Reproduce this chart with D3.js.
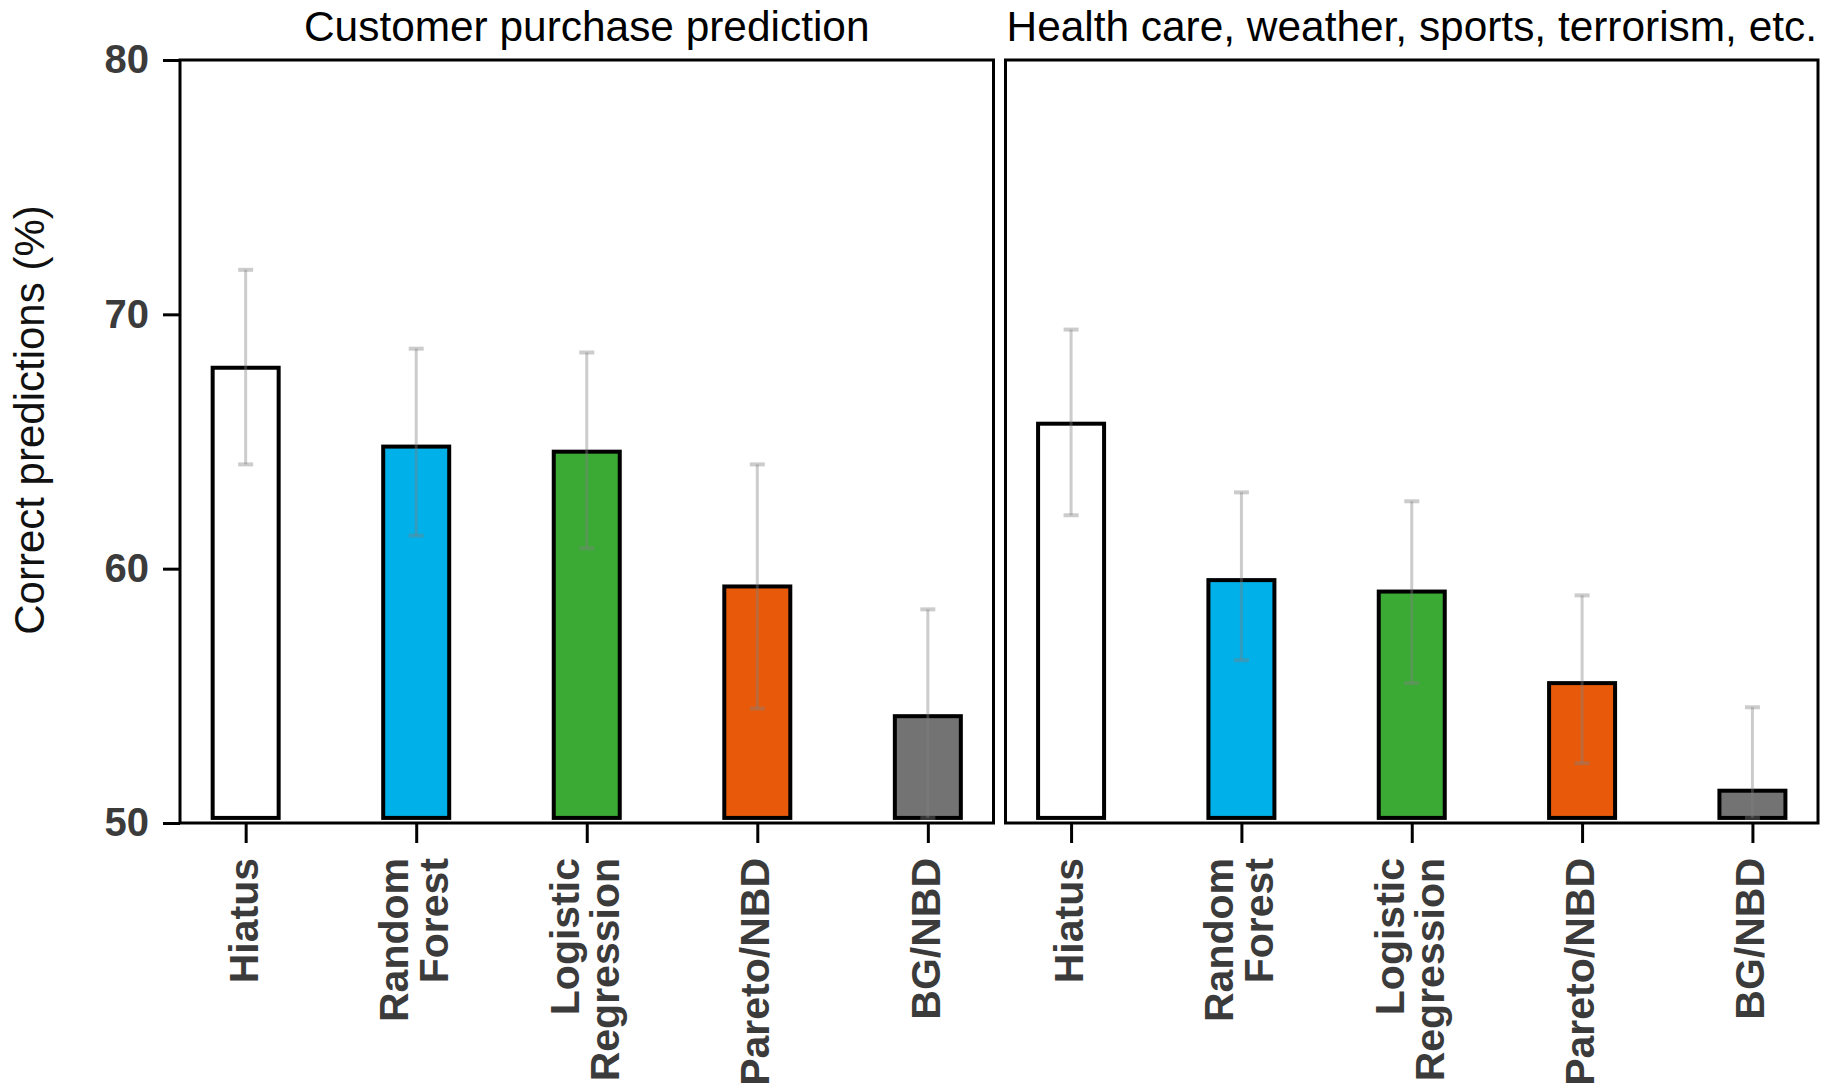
<!DOCTYPE html>
<html>
<head>
<meta charset="utf-8">
<script src="https://cdn.jsdelivr.net/npm/d3@7"></script>
<style>
  html, body { margin: 0; padding: 0; background: #ffffff; }
  svg { display: block; }
</style>
</head>
<body>
<svg id="chart" width="1835" height="1091"></svg>
<script>
// ---------------- data ----------------
const categories = ["Hiatus", "Random Forest", "Logistic Regression", "Pareto/NBD", "BG/NBD"];
const categoryLabelLines = [["Hiatus"], ["Random", "Forest"], ["Logistic", "Regression"], ["Pareto/NBD"], ["BG/NBD"]];
const panelTitles = ["Customer purchase prediction", "Health care, weather, sports, terrorism, etc."];
const yAxisTitle = "Correct predictions (%)";
const yTickValues = [50, 60, 70, 80];

const customerValues   = [67.9, 64.8, 64.6, 59.3, 54.2];
const customerErrLow   = [64.1, 61.3, 60.8, 54.5, 50.2];
const customerErrHigh  = [71.75, 68.65, 68.5, 64.1, 58.4];

const otherValues      = [65.7, 59.55, 59.1, 55.5, 51.27];
const otherErrLow      = [62.1, 56.4, 55.5, 52.35, 50.2];
const otherErrHigh     = [69.4, 63.0, 62.65, 58.95, 54.55];

const barColors = ["#ffffff", "#00b0e8", "#3aaa35", "#e85a0a", "#737373"];

// ---------------- layout ----------------
const svg = d3.select("#chart");
const plotTop = 60, plotBottom = 823;
const panels = [
  { x0: 180, x1: 993.5, title: panelTitles[0], values: customerValues, lo: customerErrLow, hi: customerErrHigh, yAxis: true },
  { x0: 1005.5, x1: 1818, title: panelTitles[1], values: otherValues, lo: otherErrLow, hi: otherErrHigh, yAxis: false }
];

const y = d3.scaleLinear().domain([50, 80]).range([plotBottom, plotTop]);
const barBase = 50.2;
const barWidth = 66;
const tickTextColor = "#3b3b3b";

panels.forEach(p => {
  const x = d3.scalePoint().domain(categories).range([p.x0, p.x1]).padding(0.385);
  const g = svg.append("g");

  // bars
  g.selectAll("rect.bar")
    .data(categories)
    .join("rect")
    .attr("class", "bar")
    .attr("x", d => x(d) - barWidth / 2)
    .attr("width", barWidth)
    .attr("y", (d, i) => y(p.values[i]))
    .attr("height", (d, i) => y(barBase) - y(p.values[i]))
    .attr("fill", (d, i) => barColors[i])
    .attr("stroke", "#000")
    .attr("stroke-width", 4);

  // error bars
  const eb = g.selectAll("g.err").data(categories).join("g").attr("class", "err");
  const errColor = "rgba(128,128,128,0.4)";
  eb.append("line")
    .attr("x1", d => x(d)).attr("x2", d => x(d))
    .attr("y1", (d, i) => y(p.lo[i])).attr("y2", (d, i) => y(p.hi[i]))
    .attr("stroke", errColor).attr("stroke-width", 3);
  eb.append("line")
    .attr("x1", d => x(d) - 7.5).attr("x2", d => x(d) + 7.5)
    .attr("y1", (d, i) => y(p.hi[i])).attr("y2", (d, i) => y(p.hi[i]))
    .attr("stroke", errColor).attr("stroke-width", 4);
  eb.append("line")
    .attr("x1", d => x(d) - 7.5).attr("x2", d => x(d) + 7.5)
    .attr("y1", (d, i) => y(p.lo[i])).attr("y2", (d, i) => y(p.lo[i]))
    .attr("stroke", errColor).attr("stroke-width", 4);

  // frame
  g.append("rect")
    .attr("x", p.x0).attr("y", plotTop)
    .attr("width", p.x1 - p.x0).attr("height", plotBottom - plotTop)
    .attr("fill", "none").attr("stroke", "#000").attr("stroke-width", 3);

  // x axis ticks
  const xAxis = d3.axisBottom(x).tickSize(20).tickFormat("");
  const xg = g.append("g").attr("transform", `translate(0,${plotBottom})`).call(xAxis);
  xg.select(".domain").remove();
  xg.selectAll(".tick line").attr("stroke", "#000").attr("stroke-width", 3);

  // rotated category labels
  categories.forEach((c, i) => {
    const lines = categoryLabelLines[i];
    const offsets = lines.length === 1 ? [12] : [-8, 32];
    const lg = g.append("g").attr("transform", `translate(${x(c)},858) rotate(-90)`);
    lines.forEach((ln, k) => {
      lg.append("text")
        .attr("x", 0).attr("y", offsets[k])
        .attr("text-anchor", "end")
        .attr("font-family", "Liberation Sans, Arial, sans-serif")
        .attr("font-weight", "bold")
        .attr("font-size", 41)
        .attr("fill", tickTextColor)
        .text(ln);
    });
  });

  // title
  g.append("text")
    .attr("x", (p.x0 + p.x1) / 2).attr("y", 41)
    .attr("text-anchor", "middle")
    .attr("font-family", "Liberation Sans, Arial, sans-serif")
    .attr("font-size", 42.4)
    .attr("fill", "#000")
    .text(p.title);

  if (p.yAxis) {
    const yAxis = d3.axisLeft(y).tickValues(yTickValues).tickSize(17).tickPadding(14).tickFormat(d3.format("d"));
    const yg = g.append("g").attr("transform", `translate(${p.x0},0)`).call(yAxis);
    yg.select(".domain").remove();
    yg.selectAll(".tick line").attr("stroke", "#000").attr("stroke-width", 3);
    yg.selectAll(".tick text")
      .attr("font-family", "Liberation Sans, Arial, sans-serif")
      .attr("font-weight", "bold")
      .attr("font-size", 40)
      .attr("fill", tickTextColor);
  }
});

// y axis title
svg.append("text")
  .attr("transform", "translate(44,420) rotate(-90)")
  .attr("text-anchor", "middle")
  .attr("font-family", "Liberation Sans, Arial, sans-serif")
  .attr("font-size", 42)
  .attr("fill", "#111")
  .text(yAxisTitle);
</script>
</body>
</html>
